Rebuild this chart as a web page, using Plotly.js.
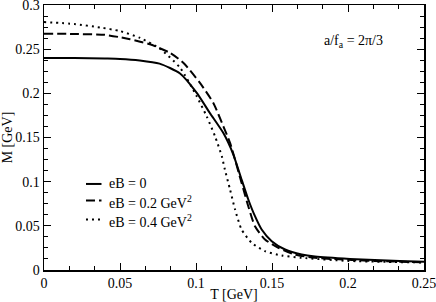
<!DOCTYPE html>
<html>
<head>
<meta charset="utf-8">
<script src="https://cdn.plot.ly/plotly-3.0.1.min.js"></script>
<style>html,body{margin:0;padding:0;background:#fff;}#chart{width:436px;height:302px;}</style>
</head>
<body>
<div id="chart"></div>
<script>
// Data
const seriesNames = ["eB = 0", "eB = 0.2 GeV<sup>2</sup>", "eB = 0.4 GeV<sup>2</sup>"];

const T_eB0 = [0, 0.02, 0.04, 0.05, 0.063, 0.076, 0.0895, 0.1005, 0.109, 0.118, 0.1245, 0.13, 0.1344, 0.1388, 0.1432, 0.1498, 0.1586, 0.1695, 0.1783, 0.2013, 0.234, 0.25];
const M_eB0 = [0.240, 0.2399, 0.2394, 0.239, 0.2373, 0.2336, 0.2225, 0.2005, 0.178, 0.155, 0.131, 0.1024, 0.0798, 0.0609, 0.0458, 0.0326, 0.0232, 0.0175, 0.0152, 0.0125, 0.0102, 0.0093];

const T_eB02 = [0, 0.02, 0.04, 0.05, 0.0566, 0.0697, 0.083, 0.0918, 0.1026, 0.1114, 0.118, 0.1224, 0.130, 0.1344, 0.1388, 0.1454, 0.1542, 0.1651, 0.1783, 0.2, 0.225, 0.25];
const M_eB02 = [0.2675, 0.2672, 0.2662, 0.2635, 0.2612, 0.2555, 0.2457, 0.2344, 0.2118, 0.189, 0.1627, 0.1439, 0.0986, 0.0722, 0.0495, 0.0345, 0.0251, 0.0175, 0.0138, 0.0115, 0.0098, 0.0088];

const T_eB04 = [0, 0.02, 0.037, 0.05, 0.0632, 0.0763, 0.0895, 0.1005, 0.107, 0.1125, 0.117, 0.119, 0.1224, 0.1257, 0.130, 0.1366, 0.1454, 0.1564, 0.1695, 0.2, 0.225, 0.25];
const M_eB04 = [0.2807, 0.2785, 0.2745, 0.2705, 0.2627, 0.2505, 0.229, 0.1966, 0.174, 0.1514, 0.1287, 0.1137, 0.091, 0.0684, 0.0458, 0.0308, 0.0213, 0.0164, 0.0138, 0.0103, 0.0092, 0.0085];

const xTickVals = [0, 0.05, 0.1, 0.15, 0.2, 0.25];
const xTickText = ["0", "0.05", "0.1", "0.15", "0.2", "0.25"];
const yTickVals = [0, 0.05, 0.1, 0.15, 0.2, 0.25, 0.3];
const yTickText = ["0", "0.05", "0.1", "0.15", "0.2", "0.25", "0.3"];

const annotationText = "a/f<sub>a</sub> = 2π/3";
const xTitle = "T [GeV]";
const yTitle = "M [GeV]";

const FONT = "Liberation Serif";
const dashes = ["solid", "9px,4px", "2px,4px"];

const traces = [
  {x: T_eB0, y: M_eB0, name: seriesNames[0], mode: "lines",
   line: {color: "#000", width: 2, dash: dashes[0], shape: "spline", smoothing: 0.6}},
  {x: T_eB02, y: M_eB02, name: seriesNames[1], mode: "lines",
   line: {color: "#000", width: 2, dash: dashes[1], shape: "spline", smoothing: 0.6}},
  {x: T_eB04, y: M_eB04, name: seriesNames[2], mode: "lines",
   line: {color: "#000", width: 2, dash: dashes[2], shape: "spline", smoothing: 0.6}}
];

const axisCommon = {
  showline: true, linecolor: "#000", linewidth: 1.5, mirror: "allticks",
  ticks: "inside", ticklen: 7, tickwidth: 1, tickcolor: "#000",
  showgrid: false, zeroline: false, ticklabeloverflow: "allow",
  tickmode: "array",
  tickfont: {family: FONT, size: 14, color: "#000"}
};

// Legend drawn as in the reference: short sample line + text, tight rows
const legSampleY = [0.3247, 0.2618, 0.1902];
const legTextY = [0.3258, 0.258, 0.1864];
const legShapes = seriesNames.map((n, i) => ({
  type: "line", xref: "paper", yref: "paper",
  x0: 0.1105, x1: 0.1513, y0: legSampleY[i], y1: legSampleY[i],
  line: {color: "#000", width: 2, dash: dashes[i]}
}));
const legAnn = seriesNames.map((n, i) => ({
  text: n, xref: "paper", yref: "paper", x: 0.167, y: legTextY[i],
  xanchor: "left", yanchor: "middle", showarrow: false,
  font: {family: FONT, size: 14, color: "#000"}
}));

const layout = {
  width: 436, height: 302,
  margin: {l: 44, r: 12, t: 5, b: 32},
  paper_bgcolor: "#fff", plot_bgcolor: "#fff",
  font: {family: FONT, color: "#000"},
  showlegend: false,
  xaxis: Object.assign({}, axisCommon, {
    range: [0, 0.2500001], tickvals: xTickVals, ticktext: xTickText,
    minor: {tickmode: "linear", dtick: 0.0166667, tick0: 0, ticks: "inside", ticklen: 4, tickcolor: "#000", tickwidth: 1},
    title: {text: xTitle, font: {family: FONT, size: 14, color: "#000"}, standoff: 2}
  }),
  yaxis: Object.assign({}, axisCommon, {
    range: [0, 0.3000001], tickvals: yTickVals, ticktext: yTickText,
    minor: {tickmode: "linear", dtick: 0.0125, tick0: 0, ticks: "inside", ticklen: 4, tickcolor: "#000", tickwidth: 1},
    title: {text: yTitle, font: {family: FONT, size: 14, color: "#000"}, standoff: 4}
  }),
  shapes: legShapes,
  annotations: [{
    text: annotationText, xref: "paper", yref: "paper",
    x: 0.815, y: 0.864, xanchor: "center", yanchor: "middle",
    showarrow: false, font: {family: FONT, size: 14, color: "#000"}
  }].concat(legAnn)
};

Plotly.newPlot("chart", traces, layout, {staticPlot: true, displayModeBar: false});
</script>
</body>
</html>
